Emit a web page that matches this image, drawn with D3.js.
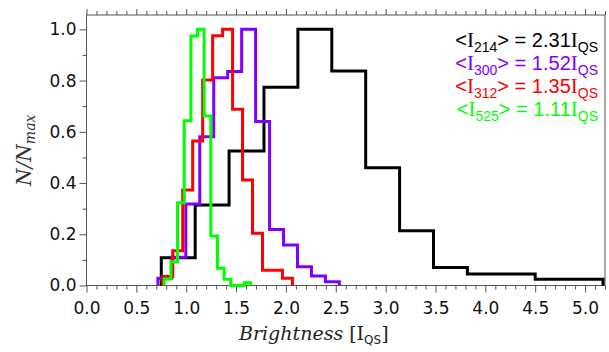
<!DOCTYPE html>
<html>
<head>
<meta charset="utf-8">
<script src="https://cdn.jsdelivr.net/npm/d3@7"></script>
<style>
  html, body { margin: 0; padding: 0; background: #fff; }
  svg { display: block; }
  .tick-label { font-family: "DejaVu Sans", sans-serif; font-size: 17px; fill: #111; }
</style>
</head>
<body>
<div id="chart"></div>
<script>
// bin edges (left edge of each bin plus final right edge) and normalised counts
const edges214 = [0.75, 1.09, 1.43, 1.78, 2.12, 2.46, 2.80, 3.14, 3.48, 3.82, 4.16, 4.50, 4.84, 5.18];
const values214 = [0.108, 0.314, 0.525, 0.774, 1.0, 0.837, 0.46, 0.214, 0.07, 0.045, 0.045, 0.024, 0.024];

const edges300 = [0.716, 0.856, 0.996, 1.136, 1.276, 1.416, 1.556, 1.696, 1.836, 1.976, 2.116, 2.256, 2.396, 2.536];
const values300 = [0.028, 0.11, 0.318, 0.581, 0.811, 0.835, 1.0, 0.64, 0.219, 0.158, 0.073, 0.037, 0.015];

const edges312 = [0.765, 0.865, 0.965, 1.065, 1.165, 1.265, 1.365, 1.465, 1.565, 1.665, 1.765, 1.865, 1.965, 2.065];
const values312 = [0.035, 0.136, 0.373, 0.564, 0.802, 0.975, 1.0, 0.688, 0.412, 0.204, 0.06, 0.06, 0.028];

const edges525 = [0.78, 0.847, 0.913, 0.98, 1.047, 1.113, 1.18, 1.247, 1.313, 1.38, 1.447, 1.513, 1.58, 1.647];
const values525 = [0.025, 0.093, 0.323, 0.643, 0.974, 1.0, 0.662, 0.193, 0.067, 0.024, 0, 0, 0.011];

const seriesNames = ['214', '300', '312', '525'];
const seriesMeans = ['2.31', '1.52', '1.35', '1.11'];
const seriesColors = ['#000000', '#8000ff', '#ff0000', '#00ff00'];

const xTicks = [0.0, 0.5, 1.0, 1.5, 2.0, 2.5, 3.0, 3.5, 4.0, 4.5, 5.0];
const yTicks = [0.0, 0.2, 0.4, 0.6, 0.8, 1.0];

const width = 609, height = 352;
const margin = { top: 15, right: 4, bottom: 66.5, left: 86.5 };

const svg = d3.select('#chart').append('svg')
  .attr('width', width)
  .attr('height', height);

const x = d3.scaleLinear().domain([0, 5.2]).range([margin.left, width - margin.right]);
const y = d3.scaleLinear().domain([0, 1.056]).range([height - margin.bottom, margin.top]);

const xMinor = d3.range(0, 5.21, 0.1).filter(v => Math.abs(v * 2 - Math.round(v * 2)) > 1e-6);
const yMinor = d3.range(0.1, 1.05, 0.2);

// frame
svg.append('rect')
  .attr('x', x(0)).attr('y', y(1.056))
  .attr('width', x(5.2) - x(0)).attr('height', y(0) - y(1.056))
  .attr('fill', 'none').attr('stroke', '#555').attr('stroke-width', 1);

function styleAxis(g) {
  g.select('.domain').remove();
  g.selectAll('line').attr('stroke', '#555');
}

// bottom axis
svg.append('g')
  .attr('transform', `translate(0,${y(0)})`)
  .call(d3.axisBottom(x).tickValues(xTicks).tickSize(7).tickPadding(9).tickFormat(d3.format('.1f')))
  .call(styleAxis)
  .selectAll('text').attr('class', 'tick-label').attr('fill', null);
svg.append('g')
  .attr('transform', `translate(0,${y(0)})`)
  .call(d3.axisBottom(x).tickValues(xMinor).tickSize(4).tickFormat(''))
  .call(styleAxis);

// top axis
svg.append('g')
  .attr('transform', `translate(0,${y(1.056)})`)
  .call(d3.axisTop(x).tickValues(xTicks).tickSize(6).tickFormat(''))
  .call(styleAxis);
svg.append('g')
  .attr('transform', `translate(0,${y(1.056)})`)
  .call(d3.axisTop(x).tickValues(xMinor).tickSize(4).tickFormat(''))
  .call(styleAxis);

// left axis
svg.append('g')
  .attr('transform', `translate(${x(0)},0)`)
  .call(d3.axisLeft(y).tickValues(yTicks).tickSize(7).tickPadding(3).tickFormat(d3.format('.1f')))
  .call(styleAxis)
  .selectAll('text').attr('class', 'tick-label').attr('fill', null);
svg.append('g')
  .attr('transform', `translate(${x(0)},0)`)
  .call(d3.axisLeft(y).tickValues(yMinor).tickSize(4).tickFormat(''))
  .call(styleAxis);

// histograms
const step = d3.line()
  .x(d => x(d[0]))
  .y(d => y(d[1]))
  .curve(d3.curveStepAfter);

function stepPoints(edges, values) {
  const pts = [[edges[0], 0]];
  values.forEach((v, i) => pts.push([edges[i], v]));
  pts.push([edges[edges.length - 1], 0]);
  return pts;
}

const hist = [
  [edges214, values214],
  [edges300, values300],
  [edges312, values312],
  [edges525, values525]
];

hist.forEach(([e, v], i) => {
  svg.append('path')
    .attr('d', step(stepPoints(e, v)))
    .attr('fill', 'none')
    .attr('stroke', seriesColors[i])
    .attr('stroke-width', 3)
    .attr('stroke-linejoin', 'miter');
});

// legend
const legend = svg.append('g');
seriesNames.forEach((name, i) => {
  const t = legend.append('text')
    .attr('x', 598)
    .attr('y', 46.5 + i * 23.3)
    .attr('text-anchor', 'end')
    .attr('fill', seriesColors[i])
    .style('font-family', '"Liberation Sans", Arial, sans-serif')
    .style('font-size', '20px');
  t.append('tspan').text('<');
  t.append('tspan').style('font-family', '"Liberation Serif", serif').style('font-size', '21px').text('I');
  t.append('tspan').attr('dy', 5).style('font-size', '14px').text(name);
  t.append('tspan').attr('dy', -5).text('> = ' + seriesMeans[i]);
  t.append('tspan').style('font-family', '"Liberation Serif", serif').style('font-size', '21px').text('I');
  t.append('tspan').attr('dy', 5).style('font-size', '14px').text('QS');
});

// x label
const xl = svg.append('text')
  .attr('x', 239).attr('y', 340)
  .attr('fill', '#222')
  .style('font-family', '"DejaVu Serif", serif')
  .style('font-size', '19px');
xl.append('tspan').style('font-style', 'italic').text('Brightness');
xl.append('tspan').text(' [I');
xl.append('tspan').attr('dy', 4).style('font-family', '"DejaVu Sans", sans-serif').style('font-size', '12px').text('QS');
xl.append('tspan').attr('dy', -4).text(']');

// y label
const yl = svg.append('text')
  .attr('transform', `translate(31,${(y(0) + y(1.056)) / 2}) rotate(-90)`)
  .attr('text-anchor', 'middle')
  .attr('fill', '#333')
  .style('font-family', '"DejaVu Serif", serif')
  .style('font-style', 'italic')
  .style('font-size', '20px');
yl.append('tspan').text('N/N');
yl.append('tspan').attr('dy', 4).style('font-size', '14px').text('max');
</script>
</body>
</html>
